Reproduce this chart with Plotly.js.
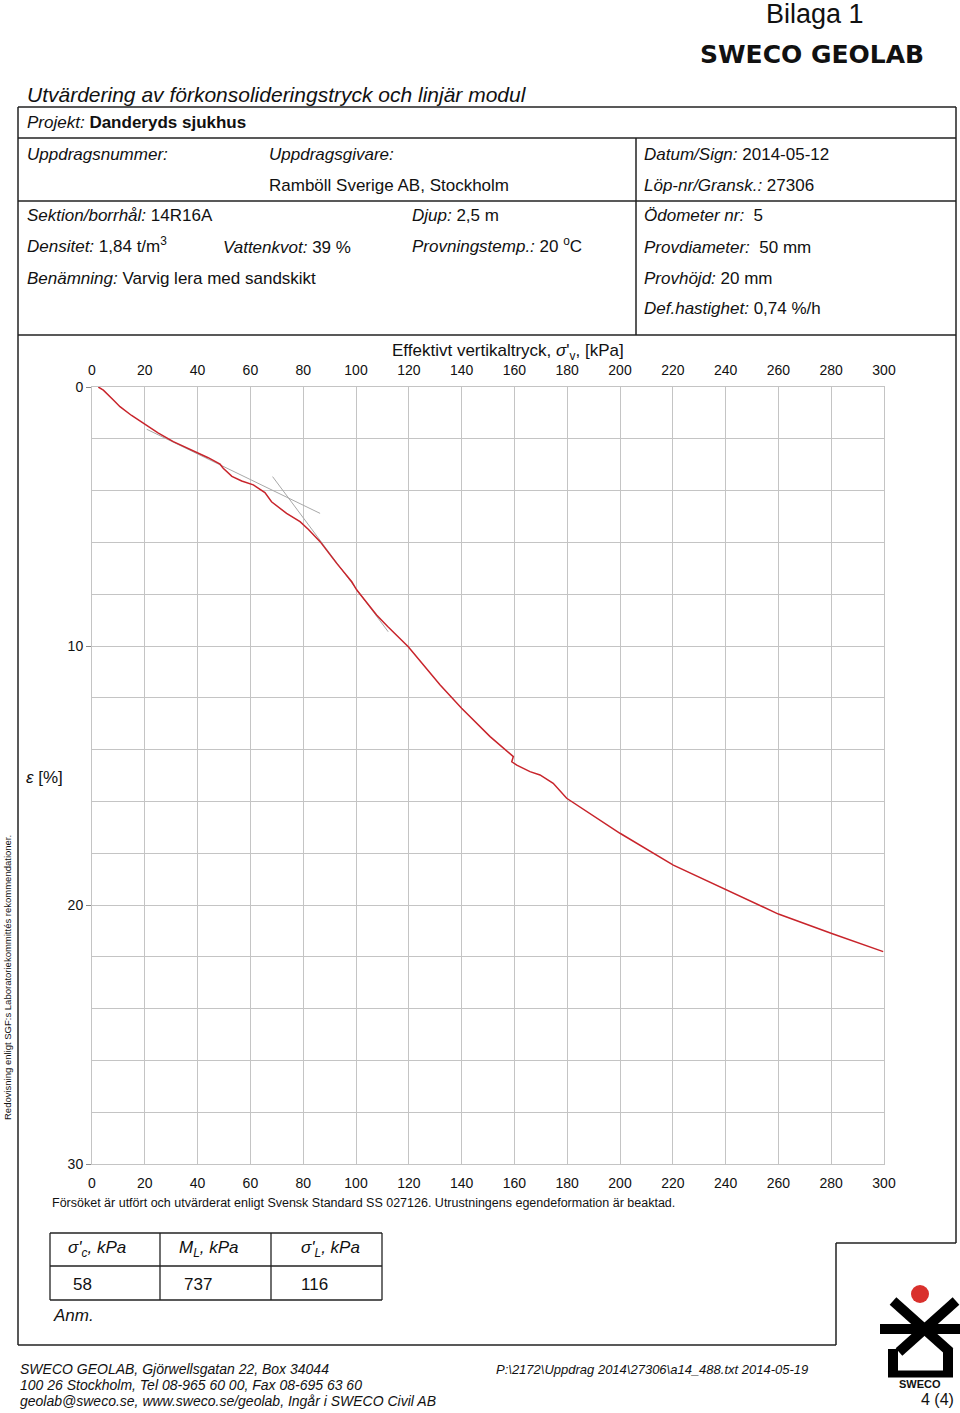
<!DOCTYPE html>
<html>
<head>
<meta charset="utf-8">
<script src="https://cdn.plot.ly/plotly-3.0.1.min.js"></script>
<style>html,body{margin:0;padding:0;background:#fff}#chart{width:960px;height:1413px}</style>
</head>
<body>
<div id="chart"></div>
<script>
// Data: effective vertical stress (kPa) vs strain (%)
const stress = [2.4, 4.3, 8.1, 10.6, 15, 19.4, 25, 30.8, 35, 39.6, 44, 48.5, 49.7, 53, 56.7, 61.1, 65.5, 68, 73.7, 78.8, 82, 86.4, 92.7, 98.4, 100.3, 107.8, 112, 119.8, 131.8, 140, 150.8, 159.6, 159.0, 160.9, 165.9, 169.7, 172.9, 174.7, 179.8, 191.2, 200, 220.2, 240.4, 260, 280.2, 299.7];
const strain = [0, 0.12, 0.5, 0.76, 1.1, 1.4, 1.77, 2.11, 2.3, 2.5, 2.73, 2.98, 3.14, 3.45, 3.63, 3.78, 4.08, 4.43, 4.88, 5.2, 5.5, 5.97, 6.81, 7.52, 7.84, 8.8, 9.25, 10.03, 11.5, 12.4, 13.5, 14.27, 14.47, 14.6, 14.85, 14.98, 15.17, 15.3, 15.88, 16.65, 17.23, 18.46, 19.42, 20.35, 21.1, 21.8];
// Construction (tangent) lines
const tan1Stress = [20.7, 86.4];
const tan1Strain = [1.63, 4.88];
const tan2Stress = [68.4, 112.2];
const tan2Strain = [3.46, 9.45];
// Tick labels
const xTicks = [0, 20, 40, 60, 80, 100, 120, 140, 160, 180, 200, 220, 240, 260, 280, 300];
const yTicks = [0, 10, 20, 30];
// Result table
const tableHeaders = ["<i>σ'<sub>c</sub>, kPa</i>", "<i>M<sub>L</sub>, kPa</i>", "<i>σ'<sub>L</sub>, kPa</i>"];
const tableValues = ["58", "737", "116"];

const W = 960, H = 1413;
const px = x => x / W;
const py = y => 1 - y / H;
const FONT = 'Liberation Sans, Arial, sans-serif';

const shapes = [];
function hline(x0, x1, y, w, c) { shapes.push({type:'line', xref:'paper', yref:'paper', x0:px(x0), x1:px(x1), y0:py(y), y1:py(y), line:{color:c||'#222', width:w||1.5}}); }
function vline(x, y0, y1, w, c) { shapes.push({type:'line', xref:'paper', yref:'paper', x0:px(x), x1:px(x), y0:py(y0), y1:py(y1), line:{color:c||'#222', width:w||1.5}}); }
function seg(x0, y0, x1, y1, w, c) { shapes.push({type:'line', xref:'paper', yref:'paper', x0:px(x0), x1:px(x1), y0:py(y0), y1:py(y1), line:{color:c, width:w}}); }

// frame
hline(18, 956, 107); hline(18, 956, 138); hline(18, 956, 201); hline(18, 956, 335);
vline(18, 107, 1345); vline(956, 107, 1243); hline(836, 956, 1243); vline(836, 1243, 1345); hline(18, 836, 1345);
vline(636, 138, 335);
// result table
hline(50, 382, 1233, 1.3); hline(50, 382, 1266, 1.3); hline(50, 382, 1300, 1.3);
vline(50, 1233, 1300, 1.3); vline(160, 1233, 1300, 1.3); vline(271, 1233, 1300, 1.3); vline(382, 1233, 1300, 1.3);
// logo
shapes.push({type:'circle', xref:'paper', yref:'paper', x0:px(911), x1:px(929), y0:py(1285), y1:py(1303), fillcolor:'#d9302c', line:{width:0}});
seg(893, 1301, 950, 1352, 10, '#000');
seg(956, 1301, 899, 1352, 10, '#000');
seg(880, 1329, 960, 1329, 10, '#000');
seg(893, 1349, 893, 1377, 10, '#000');
seg(948, 1349, 948, 1377, 10, '#000');
seg(888, 1374, 953, 1374, 7, '#000');

const ann = [];
function txt(x, y, t, size, opts) {
  ann.push(Object.assign({xref:'paper', yref:'paper', x:px(x), y:py(y), text:t, showarrow:false, xanchor:'left', yanchor:'middle', font:{family:FONT, size:size||17, color:'#111'}}, opts||{}));
}
txt(764, 14, 'Bilaga 1', 27);
txt(698, 55, '<b>SWECO GEOLAB</b>', 27, {font:{family:'DejaVu Sans, sans-serif', size:25, color:'#111'}});
txt(25, 94, '<i>Utvärdering av förkonsolideringstryck och linjär modul</i>', 21);
txt(25, 123, '<i>Projekt:</i> <b>Danderyds sjukhus</b>', 17);
txt(25, 154, '<i>Uppdragsnummer:</i>', 17);
txt(267, 154, '<i>Uppdragsgivare:</i>', 17);
txt(267, 185, 'Ramböll Sverige AB, Stockholm', 17);
txt(642, 154, '<i>Datum/Sign:</i> 2014-05-12', 17);
txt(642, 185, '<i>Löp-nr/Gransk.:</i> 27306', 17);
txt(25, 216, '<i>Sektion/borrhål:</i> 14R16A', 17);
txt(410, 216, '<i>Djup:</i> 2,5 m', 17);
txt(642, 216, '<i>Ödometer nr:</i>  5', 17);
txt(25, 245, '<i>Densitet:</i> 1,84 t/m<sup>3</sup>', 17);
txt(221, 247, '<i>Vattenkvot:</i> 39 %', 17);
txt(410, 245, '<i>Provningstemp.:</i> 20 <sup>o</sup>C', 17);
txt(642, 247, '<i>Provdiameter:</i>  50 mm', 17);
txt(25, 278, '<i>Benämning:</i> Varvig lera med sandskikt', 17);
txt(642, 278, '<i>Provhöjd:</i> 20 mm', 17);
txt(642, 309, '<i>Def.hastighet:</i> 0,74 %/h', 17);
txt(508, 352, "Effektivt vertikaltryck, <i>σ</i>'<sub>v</sub>, [kPa]", 17, {xanchor:'center'});
txt(24, 777, '<i>ε</i> [%]', 17);
txt(8, 978, "Redovisning enligt SGF:s Laboratoriekommittés rekommendationer.", 9.5, {xanchor:'center', textangle:-90});
txt(50, 1203, 'Försöket är utfört och utvärderat enligt Svensk Standard SS 027126. Utrustningens egendeformation är beaktad.', 12.5);
const colX = [66, 177, 299];
const valX = [71, 182, 299];
tableHeaders.forEach((h, i) => txt(colX[i], 1249, h, 17));
tableValues.forEach((v, i) => txt(valX[i], 1284, v, 17));
txt(51, 1315, '<i>Anm.</i>', 17);
txt(18, 1369, '<i>SWECO GEOLAB, Gjörwellsgatan 22, Box 34044</i>', 14);
txt(18, 1385, '<i>100 26 Stockholm, Tel 08-965 60 00, Fax 08-695 63 60</i>', 14);
txt(18, 1401, '<i>geolab@sweco.se, www.sweco.se/geolab, Ingår i SWECO Civil AB</i>', 14);
txt(494, 1369, '<i>P:\\2172\\Uppdrag 2014\\27306\\a14_488.txt 2014-05-19</i>', 13);
txt(920, 1384, '<b>SWECO</b>', 11, {xanchor:'center'});
txt(956, 1399, '4 (4)', 16, {xanchor:'right'});

const gridC = '#c4c4c4';
const traces = [
  {x: tan1Stress, y: tan1Strain, mode:'lines', line:{color:'#a8a8a8', width:1}, hoverinfo:'skip', xaxis:'x', yaxis:'y'},
  {x: tan2Stress, y: tan2Strain, mode:'lines', line:{color:'#a8a8a8', width:1}, hoverinfo:'skip', xaxis:'x', yaxis:'y'},
  {x: stress, y: strain, mode:'lines', line:{color:'#c8242b', width:1.5}, xaxis:'x', yaxis:'y'},
  {x: stress, y: strain, mode:'lines', opacity:0, line:{width:0}, hoverinfo:'skip', xaxis:'x2', yaxis:'y'}
];

const layout = {
  width: W, height: H,
  margin: {l:0, r:0, t:0, b:0},
  paper_bgcolor: '#fff', plot_bgcolor: '#fff',
  showlegend: false,
  font: {family: FONT, size: 14, color: '#111'},
  xaxis: {
    domain: [px(92), px(884)], range: [0, 300], tickvals: xTicks, ticktext: xTicks.map(String),
    showgrid: true, gridcolor: gridC, gridwidth: 1, zeroline: false,
    showline: true, linecolor: gridC, linewidth: 1, mirror: true,
    ticks: '', ticklen: 0, ticklabelstandoff: 6, tickfont: {size: 14, family: FONT}, side: 'bottom', anchor: 'y'
  },
  xaxis2: {
    overlaying: 'x', matches: 'x', side: 'top', anchor: 'y', range: [0, 300],
    tickvals: xTicks, ticktext: xTicks.map(String), showgrid: false, zeroline: false,
    ticks: '', ticklabelstandoff: 8, tickfont: {size: 14, family: FONT}
  },
  yaxis: {
    domain: [py(1164), py(387)], range: [30, 0], tickvals: yTicks, ticktext: yTicks.map(String),
    showgrid: true, gridcolor: gridC, gridwidth: 1, zeroline: false,
    showline: true, linecolor: gridC, linewidth: 1, mirror: true,
    ticks: 'outside', ticklen: 5, tickcolor: '#888', tickfont: {size: 14, family: FONT},
    minor: {dtick: 2, showgrid: true, gridcolor: gridC, gridwidth: 1, ticks: ''}
  },
  shapes: shapes,
  annotations: ann
};

Plotly.newPlot('chart', traces, layout, {staticPlot: true, displayModeBar: false});
</script>
</body>
</html>
